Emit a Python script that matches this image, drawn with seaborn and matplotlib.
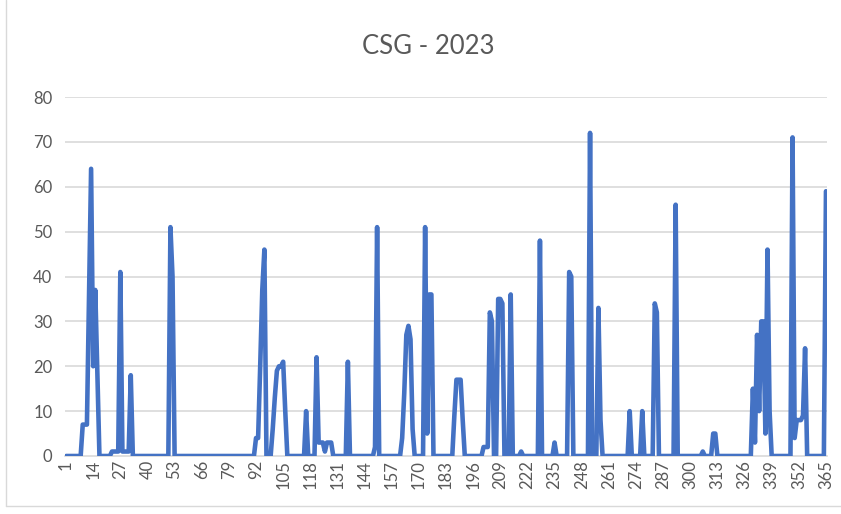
import numpy as np
import pandas as pd
import matplotlib
matplotlib.use("Agg")
import matplotlib.pyplot as plt
import seaborn as sns

# ---- data ----
title = "CSG - 2023"
days = list(range(1, 366))
# days with non-zero values and their values (all other days are 0)
spike_days = [9, 10, 11, 12, 13, 14, 15, 16,
              23, 24, 25, 26, 27, 28, 29, 30, 31, 32,
              51, 52,
              92, 93, 94, 95, 96,
              100, 101, 102, 103, 104, 105, 106,
              116, 121, 122, 123, 124, 125, 126, 127, 128,
              136, 149, 150,
              162, 163, 164, 165, 166, 167,
              173, 174, 175, 176,
              187, 188, 189, 190, 191,
              201, 202, 203, 204, 205,
              208, 209, 210, 214, 219, 228, 235,
              242, 243, 252, 256, 257,
              271, 277, 283, 284, 293, 306, 311, 312,
              330, 331, 332, 333, 334, 335, 336, 337, 338,
              349, 350, 351, 352, 353, 354, 355,
              365]
spike_values = [7, 7, 7, 36, 64, 20, 37, 18,
                1, 1, 1, 1, 41, 1, 1, 1, 1, 18,
                51, 40,
                4, 4, 20, 37, 46,
                6, 13, 19, 20, 20, 21, 10,
                10, 22, 3, 3, 3, 1, 3, 3, 3,
                21, 2, 51,
                4, 14, 27, 29, 26, 6,
                51, 5, 36, 36,
                9, 17, 17, 17, 8,
                2, 2, 2, 32, 30,
                35, 35, 34, 36, 1, 48, 3,
                41, 40, 72, 33, 8,
                10, 10, 34, 32, 56, 1, 5, 5,
                15, 3, 27, 10, 30, 30, 5, 46, 10,
                71, 4, 8, 8, 8, 9, 24,
                59]
tick_labels = [str(d) for d in range(1, 366, 13)]
y_ticks = [0, 10, 20, 30, 40, 50, 60, 70, 80]

vals = dict(zip(spike_days, spike_values))
df = pd.DataFrame({"day": days, "value": [vals.get(d, 0) for d in days]})

# ---- style ----
sns.set_theme(style="white")
plt.rcParams["font.family"] = ["Lato", "DejaVu Sans"]
grey_txt = "#595959"
grid_c = "#D9D9D9"
line_c = "#4472C4"

fig = plt.figure(figsize=(8.41, 5.14), dpi=100)
ax = fig.add_axes([65 / 841, 1 - 456 / 514, (827 - 65) / 841, (456 - 97) / 514])

sns.lineplot(data=df, x="day", y="value", ax=ax, color=line_c, linewidth=3.3,
             solid_joinstyle="round", solid_capstyle="round", zorder=3)

ax.set_xlim(0.5, 365.5)
ax.set_ylim(0, 80)
ax.set_yticks(y_ticks)
ax.set_yticklabels([str(v) for v in y_ticks])
ax.set_xticks([int(t) for t in tick_labels])
ax.set_xticklabels(tick_labels, rotation=90)
ax.set_xlabel("")
ax.set_ylabel("")

for v in y_ticks[1:]:
    ax.axhline(v, color=grid_c, linewidth=1.2, zorder=1)

for s in ["top", "right", "left"]:
    ax.spines[s].set_visible(False)
ax.spines["bottom"].set_color(grid_c)
ax.spines["bottom"].set_linewidth(1.2)
ax.spines["bottom"].set_zorder(2)

ax.tick_params(axis="y", length=0, pad=9, labelsize=12, labelcolor=grey_txt)
ax.tick_params(axis="x", length=0, pad=3, labelsize=12, labelcolor=grey_txt)

fig.text(428 / 841, 1 - 47 / 514, title, ha="center", va="center",
         fontsize=18.5, color=grey_txt)

# chart-area border (left and bottom edges visible in the reference)
fig.add_artist(plt.Line2D([6 / 841, 6 / 841], [1 - 506 / 514, 1.0],
                          transform=fig.transFigure, color="#D9D9D9", linewidth=1))
fig.add_artist(plt.Line2D([6 / 841, 1.0], [1 - 506 / 514, 1 - 506 / 514],
                          transform=fig.transFigure, color="#D9D9D9", linewidth=1))

fig.savefig("out.png", dpi=100, facecolor="white")
